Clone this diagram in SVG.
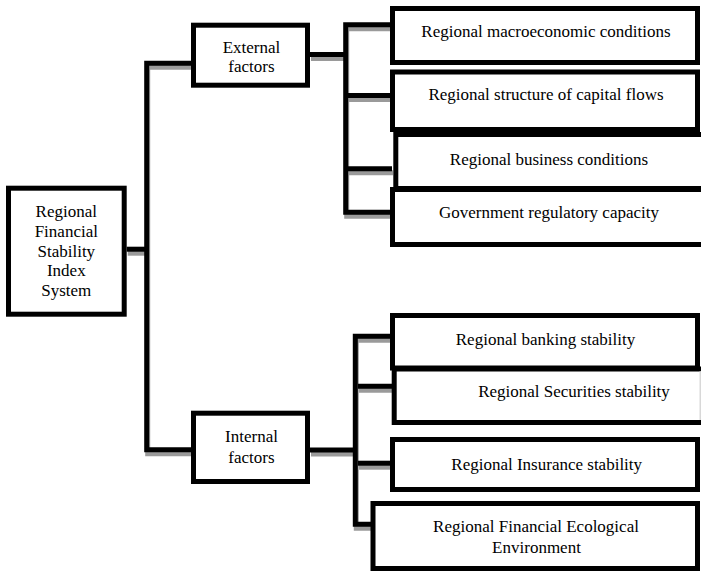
<svg xmlns="http://www.w3.org/2000/svg" width="701" height="571" viewBox="0 0 701 571">
<style>
.box{fill:#fff;stroke:#000;stroke-width:5}
.ln{fill:none;stroke:#000;stroke-width:5;stroke-linejoin:miter;stroke-linecap:butt}
.sh{fill:none;stroke:#9a9a9a;stroke-width:5;stroke-linejoin:miter;stroke-linecap:butt}
text{font-family:"Liberation Serif","Times New Roman",serif;font-size:17px;fill:#000;text-anchor:middle}
</style>
<rect width="701" height="571" fill="#fff"/>
<g id="connectors">
<g transform="translate(1,4)">
<path class="sh" d="M126.7 249.2H146.7"/>
<path class="sh" d="M191 63.3H146.7V449.8H191"/>
<path class="sh" d="M310 54.6H345.7"/>
<path class="sh" d="M390 24.7H345.7V212.2H390"/>
<path class="sh" d="M348 95.5H390"/>
<path class="sh" d="M348 168.8H392"/>
<path class="sh" d="M310 450H355.3"/>
<path class="sh" d="M390 336.3H355.3V524.3H371"/>
<path class="sh" d="M358 386.3H392"/>
<path class="sh" d="M358 463.2H390"/>
</g>
<path class="ln" d="M126.7 249.2H146.7"/>
<path class="ln" d="M191 63.3H146.7V449.8H191"/>
<path class="ln" d="M310 54.6H345.7"/>
<path class="ln" d="M390 24.7H345.7V212.2H390"/>
<path class="ln" d="M348 95.5H390"/>
<path class="ln" d="M348 168.8H392"/>
<path class="ln" d="M310 450H355.3"/>
<path class="ln" d="M390 336.3H355.3V524.3H371"/>
<path class="ln" d="M358 386.3H392"/>
<path class="ln" d="M358 463.2H390"/>
</g>
<g id="root">
<rect class="box" x="8.5" y="188.2" width="115.7" height="126"/>
<text x="66.3" y="216.5">Regional</text>
<text x="66.3" y="236.5">Financial</text>
<text x="66.3" y="256.5">Stability</text>
<text x="66.3" y="276">Index</text>
<text x="66.3" y="296">System</text>
</g>
<g id="external">
<rect class="box" x="193.5" y="25.2" width="114" height="60"/>
<text x="251.5" y="52.5">External</text>
<text x="251.5" y="71.5">factors</text>
</g>
<g id="internal">
<rect class="box" x="193.5" y="413.2" width="114" height="68.3"/>
<text x="251.5" y="441.5">Internal</text>
<text x="251.5" y="463">factors</text>
</g>
<g id="macro">
<rect class="box" x="392.5" y="8.5" width="305" height="54"/>
<text x="546" y="36.5">Regional macroeconomic conditions</text>
</g>
<g id="capital">
<rect class="box" x="392.5" y="72" width="305" height="57.5"/>
<text x="546" y="100">Regional structure of capital flows</text>
</g>
<g id="business">
<rect class="box" x="395.8" y="134.5" width="320" height="54"/>
<text x="549" y="165">Regional business conditions</text>
</g>
<g id="government">
<rect class="box" x="392.5" y="189.5" width="320" height="55"/>
<text x="549" y="218">Government regulatory capacity</text>
</g>
<g id="banking">
<rect class="box" x="392.5" y="315.5" width="305" height="52.5"/>
<text x="545.5" y="345">Regional banking stability</text>
</g>
<g id="securities">
<rect class="box" x="394.2" y="369" width="320" height="53.5"/>
<line x1="700.2" y1="371" x2="700.2" y2="420" stroke="#cfcfcf" stroke-width="1.2"/>
<text x="574" y="396.5">Regional Securities stability</text>
</g>
<g id="insurance">
<rect class="box" x="392.5" y="439.5" width="305" height="50"/>
<text x="546.7" y="470">Regional Insurance stability</text>
</g>
<g id="ecological">
<rect class="box" x="373" y="503.5" width="324.5" height="65"/>
<text x="536" y="531.5">Regional Financial Ecological</text>
<text x="536.5" y="553">Environment</text>
</g>
</svg>
